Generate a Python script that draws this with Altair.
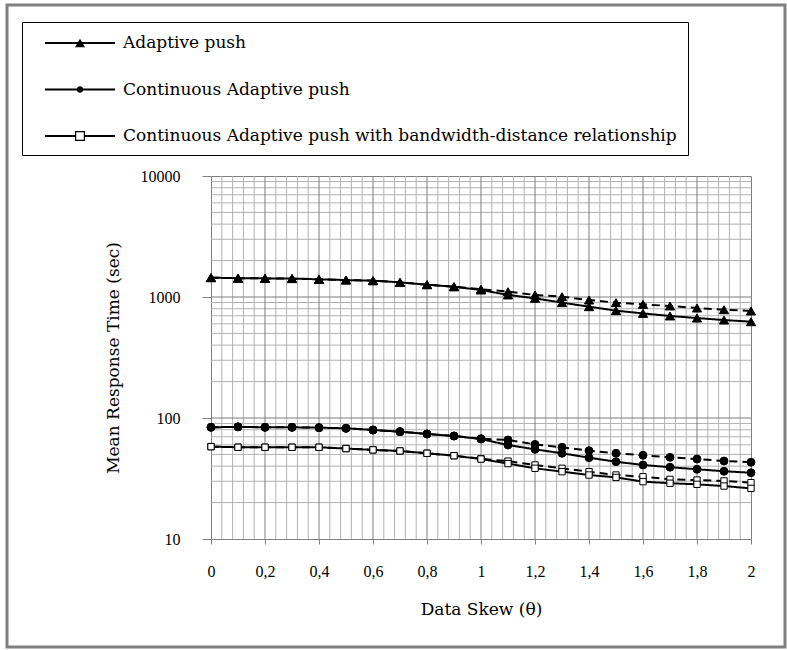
import json
import altair as alt
import pandas as pd

# ---------------- data ----------------
x_vals = [0.0, 0.1, 0.2, 0.3, 0.4, 0.5, 0.6, 0.7, 0.8, 0.9, 1.0,
          1.1, 1.2, 1.3, 1.4, 1.5, 1.6, 1.7, 1.8, 1.9, 2.0]

series_names = ["Adaptive push",
                "Continuous Adaptive push",
                "Continuous Adaptive push with bandwidth-distance relationship"]

ap_solid = [1445, 1430, 1425, 1420, 1400, 1381, 1364, 1321, 1264, 1216, 1142,
            1040, 975, 898, 832, 771, 732, 697, 670, 645, 625]
ap_dashed = [1445, 1430, 1425, 1420, 1400, 1381, 1364, 1321, 1264, 1216, 1160,
             1107, 1040, 1006, 944, 898, 869, 843, 811, 785, 766]

cap_solid = [83.8, 84.5, 83.8, 83.8, 83.2, 82.2, 79.6, 77.1, 73.8, 71.0, 67.0,
             59.8, 55.1, 51.1, 47.0, 43.5, 40.9, 39.2, 37.7, 36.3, 35.3]
cap_dashed = [83.8, 84.5, 83.8, 83.8, 83.2, 82.2, 79.6, 77.1, 73.8, 71.0, 67.5,
              65.8, 60.5, 57.3, 53.7, 51.1, 49.2, 47.3, 45.8, 44.1, 43.1]

bdr_solid = [58.0, 57.3, 57.3, 57.3, 57.3, 55.9, 54.5, 53.4, 51.1, 48.8, 45.8,
             42.0, 38.4, 36.0, 33.8, 32.3, 29.8, 28.9, 28.3, 27.4, 26.2]
bdr_dashed = [58.0, 57.3, 57.3, 57.3, 57.3, 55.9, 54.5, 53.4, 51.1, 48.8, 46.0,
              44.0, 40.9, 38.4, 36.0, 33.8, 32.7, 31.1, 30.7, 30.2, 29.2]

x_ticks = [0, 0.2, 0.4, 0.6, 0.8, 1.0, 1.2, 1.4, 1.6, 1.8, 2.0]
x_tick_labels = ["0", "0,2", "0,4", "0,6", "0,8", "1", "1,2", "1,4", "1,6", "1,8", "2"]
y_ticks = [10, 100, 1000, 10000]

x_minor_grid = [0.04, 0.08, 0.12, 0.16, 0.24, 0.28, 0.32, 0.36, 0.44, 0.48, 0.52, 0.56,
                0.64, 0.68, 0.72, 0.76, 0.84, 0.88, 0.92, 0.96, 1.04, 1.08, 1.12, 1.16,
                1.24, 1.28, 1.32, 1.36, 1.44, 1.48, 1.52, 1.56, 1.64, 1.68, 1.72, 1.76,
                1.84, 1.88, 1.92, 1.96]
x_major_grid = [0.2, 0.4, 0.6, 0.8, 1.0, 1.2, 1.4, 1.6, 1.8]
y_minor_grid = [20, 30, 40, 50, 60, 70, 80, 90,
                200, 300, 400, 500, 600, 700, 800, 900,
                2000, 3000, 4000, 5000, 6000, 7000, 8000, 9000]
y_major_grid = [100, 1000]

# ---------------- tables ----------------
rows = []
for name, variant, vals in [
    (series_names[0], "dashed", ap_dashed), (series_names[0], "solid", ap_solid),
    (series_names[1], "dashed", cap_dashed), (series_names[1], "solid", cap_solid),
    (series_names[2], "dashed", bdr_dashed), (series_names[2], "solid", bdr_solid),
]:
    for xv, yv in zip(x_vals, vals):
        rows.append({"x": xv, "y": yv, "series": name, "variant": variant,
                     "key": name + "|" + variant})
df = pd.DataFrame(rows)

SERIF = "DejaVu Serif"
TICKFONT = "Liberation Serif"
MAJOR = "#7f7f7f"
MINOR = "#b2b2b2"

xscale = alt.Scale(domain=[0, 2], nice=False, zero=False)
yscale = alt.Scale(type="log", domain=[10, 10000], nice=False)

label_expr = json.dumps(x_tick_labels) + "[round(datum.value*5)]"

x_axis = alt.Axis(values=x_ticks, labelExpr=label_expr, grid=False,
                  tickSize=5, tickColor=MAJOR, domainColor=MAJOR,
                  labelFont=TICKFONT, labelFontSize=16, labelColor="black",
                  labelPadding=19, labelFlush=False,
                  title="Data Skew (θ)", titleFont=SERIF, titleFontSize=17,
                  titleFontWeight="normal", titleColor="black",
                  titleY=70, titleBaseline="middle")
y_axis = alt.Axis(values=y_ticks, format="d", grid=False,
                  tickSize=9, tickColor=MAJOR, domainColor=MAJOR,
                  labelFont=TICKFONT, labelFontSize=16, labelColor="black",
                  labelPadding=22, labelFlush=False,
                  title="Mean Response Time (sec)", titleFont=SERIF,
                  titleFontSize=17, titleFontWeight="normal",
                  titleColor="black", titleX=-98, titleY=181.5,
                  titleAngle=-90, titleAlign="center", titleBaseline="middle")

x_enc = alt.X("x:Q", scale=xscale, axis=x_axis)
y_enc = alt.Y("y:Q", scale=yscale, axis=y_axis)

# frame around whole figure (decoration)
frame = alt.Chart(pd.DataFrame({"a": [0]})).mark_rect(
    fillOpacity=0, stroke="#808080", strokeWidth=3
).encode(x=alt.value(-204), x2=alt.value(574), y=alt.value(-171), y2=alt.value(471))

gx_minor = alt.Chart(pd.DataFrame({"x": x_minor_grid})).mark_rule(
    color=MINOR, strokeWidth=1).encode(x=x_enc)
gy_minor = alt.Chart(pd.DataFrame({"y": y_minor_grid})).mark_rule(
    color=MINOR, strokeWidth=1).encode(y=y_enc)
gx_major = alt.Chart(pd.DataFrame({"x": x_major_grid})).mark_rule(
    color=MAJOR, strokeWidth=1).encode(x=x_enc)
gy_major = alt.Chart(pd.DataFrame({"y": y_major_grid})).mark_rule(
    color=MAJOR, strokeWidth=1).encode(y=y_enc)

lines = alt.Chart(df).mark_line(color="black", strokeWidth=2).encode(
    x=x_enc, y=y_enc, detail="key:N",
    strokeDash=alt.StrokeDash("variant:N",
                              scale=alt.Scale(domain=["solid", "dashed"],
                                              range=[[1, 0], [8, 5]]),
                              legend=None))

points = alt.Chart(df).mark_point(filled=True, stroke="black", strokeWidth=1,
                                  opacity=1).encode(
    x=x_enc, y=y_enc,
    shape=alt.Shape("series:N", scale=alt.Scale(domain=series_names,
                                                range=["triangle-up", "circle", "square"]),
                    legend=None),
    fill=alt.Fill("series:N", scale=alt.Scale(domain=series_names,
                                              range=["black", "black", "white"]),
                  legend=None),
    size=alt.Size("series:N", scale=alt.Scale(domain=series_names, range=[85, 40, 85]),
                  legend=None),
)

# legend symbols: line + marker, drawn as filled paths (unit = 10 px)
legend_paths = [
    "M-3.5,-0.1H3.5V0.1H-3.5Z M-0.5,0.42L0,-0.42L0.5,0.42Z",
    "M-3.5,-0.1H3.5V0.1H-3.5Z M0.33,0A0.33,0.33,0,1,1,-0.33,0A0.33,0.33,0,1,1,0.33,0Z",
    "M-3.5,-0.1H-0.5V0.1H-3.5Z M0.5,-0.1H3.5V0.1H0.5Z "
    "M-0.5,-0.5H0.5V0.5H-0.5Z M-0.38,-0.38V0.38H0.38V-0.38Z",
]
leg = alt.Legend(orient="none", legendX=-189, legendY=-154, direction="vertical",
                 title=None, strokeColor="black", fillColor="white", padding=11,
                 labelFont=SERIF, labelFontSize=17, labelColor="black",
                 labelLimit=2000, labelOffset=33, rowPadding=28.5,
                 symbolSize=400, symbolOffset=37, symbolStrokeWidth=0,
                 symbolFillColor="black", symbolOpacity=1)
legend_layer = alt.Chart(df).mark_point(filled=True, opacity=0, color="black",
                                        size=400).encode(
    x=x_enc, y=y_enc,
    shape=alt.Shape("series:N", scale=alt.Scale(domain=series_names, range=legend_paths),
                    legend=leg),
)

chart = alt.layer(frame, gx_minor, gy_minor, gx_major, gy_major,
                  lines, points, legend_layer).resolve_scale(
    shape="independent"
).properties(
    width=540, height=363,
    autosize=alt.AutoSizeParams(type="none"),
    padding={"left": 211, "top": 176, "right": 36, "bottom": 111},
    background="white",
).configure_view(stroke=MAJOR, strokeWidth=1)

chart.save("out.html", embed_options={"renderer": "svg", "actions": False})
